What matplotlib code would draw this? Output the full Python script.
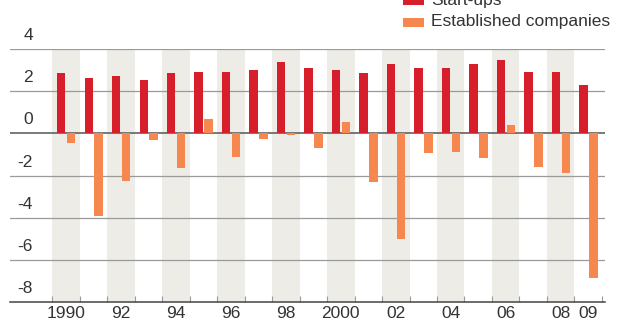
import matplotlib
matplotlib.use('Agg')
import matplotlib.pyplot as plt
from matplotlib.patches import Rectangle
from matplotlib import transforms

plt.rcParams['font.family'] = ['Liberation Sans', 'DejaVu Sans']

years = list(range(1990, 2010))
startups = [2.85, 2.61, 2.74, 2.55, 2.85, 2.91, 2.91, 2.99, 3.37, 3.11,
            3.00, 2.85, 3.27, 3.10, 3.08, 3.30, 3.46, 2.92, 2.90, 2.28]
established = [-0.45, -3.92, -2.26, -0.30, -1.63, 0.69, -1.13, -0.27, -0.10, -0.70,
               0.52, -2.31, -5.01, -0.93, -0.90, -1.16, 0.41, -1.58, -1.87, -6.85]
ytick_vals = [4, 2, 0, -2, -4, -6, -8]
xtick_years = [1990, 1992, 1994, 1996, 1998, 2000, 2002, 2004, 2006, 2008, 2009]
xtick_labels = ['1990', '92', '94', '96', '98', '2000', '02', '04', '06', '08', '09']

red = '#d71f2b'
orange = '#f5874f'
band = '#edece6'
grid = '#9a9a9a'
text_c = '#333333'

W, H = 630, 322
fig = plt.figure(figsize=(W / 100, H / 100), dpi=100)
ax = fig.add_axes([10 / W, 1 - 302 / H, 595 / W, 253 / H])

# shaded bands on even years
for y in years:
    if y % 2 == 0:
        ax.axvspan(y - 0.5, y + 0.5, color=band, lw=0, zorder=0)

# horizontal gridlines
for v in ytick_vals[:-1]:
    ax.axhline(v, color=grid if v != 0 else '#555555', lw=0.9 if v != 0 else 1.1, zorder=1)

ax.bar([y - 0.17 for y in years], startups, width=0.3, color=red, zorder=3)
ax.bar([y + 0.19 for y in years], established, width=0.31, color=orange, zorder=3)

ax.set_xlim(1987.97, 2009.61)
ax.set_ylim(-8, 4)

for s in ['top', 'right', 'left']:
    ax.spines[s].set_visible(False)
ax.spines['bottom'].set_color('#444444')
ax.spines['bottom'].set_linewidth(1.1)

ax.set_yticks([])
ax.set_xticks(xtick_years)
ax.set_xticklabels(xtick_labels, fontsize=12.5, color=text_c)
ax.tick_params(axis='x', which='major', length=0, pad=3)
ax.set_xticks([y + 0.5 for y in range(1989, 2010)], minor=True)
ax.tick_params(axis='x', which='minor', direction='in', length=4, width=0.8, color=grid)

# y labels sit above their gridlines
trans = transforms.blended_transform_factory(fig.transFigure, ax.transData)
for v in ytick_vals:
    ax.text(33 / W, v + 0.64, str(v).replace('-', '-'), transform=trans,
            ha='right', va='center', fontsize=12.5, color=text_c)

# legend
fig.add_artist(Rectangle((403 / W, 1 - 5 / H), 21 / W, 9 / H,
                         transform=fig.transFigure, color=red, lw=0))
fig.text(431 / W, 1 - 0.5 / H, 'Start-ups', fontsize=12.5, color=text_c, va='center')
fig.add_artist(Rectangle((403 / W, 1 - 27 / H), 21 / W, 9 / H,
                         transform=fig.transFigure, color=orange, lw=0))
fig.text(431 / W, 1 - 21.5 / H, 'Established companies', fontsize=12.5,
         color=text_c, va='center')

fig.savefig('out.png', dpi=100)
